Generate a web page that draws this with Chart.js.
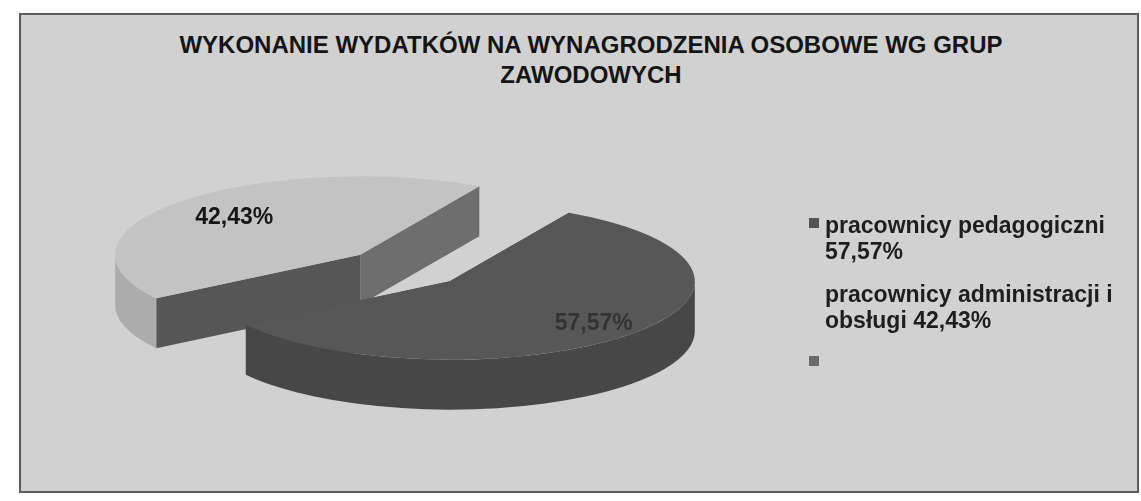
<!DOCTYPE html>
<html>
<head>
<meta charset="utf-8">
<script src="https://cdn.jsdelivr.net/npm/chart.js@4/dist/chart.umd.min.js"></script>
<style>
  body { margin: 0; background: #fff; font-family: "Liberation Sans", Arial, sans-serif; }
  #wrap { position: relative; width: 1141px; height: 501px; overflow: hidden; }
  .frame { position: absolute; left: 19px; top: 13px; width: 1116px; height: 476px; border: 2px solid #5c5c5c; background: #d1d1d1; }
  #title { position: absolute; left: 0; top: 30px; width: 1182px; text-align: center; font-weight: bold; font-size: 24px; line-height: 30px; color: #151515; }
  #chart { position: absolute; left: 0; top: 0; }
  #legend { position: absolute; left: 803px; top: 212px; width: 330px; }
  .item { position: relative; padding-left: 22px; font-weight: bold; font-size: 23px; line-height: 26px; color: #1e1e1e; margin-bottom: 17px; min-height: 20px; }
  .item .box { position: absolute; left: 6px; top: 6px; width: 10px; height: 10px; }
</style>
</head>
<body>
<div id="wrap">
  <div class="frame"></div>
  <div id="title"></div>
  <canvas id="chart" width="1141" height="501"></canvas>
  <div id="legend"></div>
</div>
<script>
// --- data ---
const titleLines = ["WYKONANIE WYDATKÓW NA WYNAGRODZENIA OSOBOWE WG GRUP", "ZAWODOWYCH"];
const categories = ["pracownicy pedagogiczni", "pracownicy administracji i obsługi"];
const values = [57.57, 42.43];
// legend as printed: the 2nd marker is not visible, a 3rd empty entry has one
const legendEntries = [0, 1, null];

const fmt = v => v.toFixed(2).replace(".", ",") + "%";

// --- 3d look ---
const K = 0.32;        // vertical squash of the pie
const DEPTH = 50;      // thickness in px
const EXPLODE = 61;    // distance each slice is pulled out
const sliceStyles = [
  { top: "#575757", side: "#474747", faceStart: "#444444", faceEnd: "#4d4d4d", label: "#343434", labelR: 0.8 },
  { top: "#c3c3c3", side: "#acacac", faceStart: "#565656", faceEnd: "#6e6e6e", label: "#161616", labelR: 0.7 }
];
const legendColors = ["#545454", "rgba(0,0,0,0)", "#6a6a6a"];

document.getElementById("title").innerHTML = titleLines.join("<br>");

const legendEl = document.getElementById("legend");
legendEntries.forEach((idx, i) => {
  const div = document.createElement("div");
  div.className = "item";
  const box = document.createElement("span");
  box.className = "box";
  box.style.background = legendColors[i];
  div.appendChild(box);
  div.appendChild(document.createTextNode(idx === null ? "" : categories[idx] + " " + fmt(values[idx])));
  legendEl.appendChild(div);
});

function drawSlice(ctx, arc, i) {
  const s = sliceStyles[i];
  const mid = (arc.startAngle + arc.endAngle) / 2;
  const cx = arc.x + EXPLODE * Math.cos(mid);
  const cy = arc.y + EXPLODE * K * Math.sin(mid);
  const R = arc.outerRadius, ry = R * K;
  const rim = t => [cx + R * Math.cos(t), cy + ry * Math.sin(t)];

  // cut faces
  [[arc.startAngle, s.faceStart], [arc.endAngle, s.faceEnd]].forEach(([t, c]) => {
    const p = rim(t);
    ctx.beginPath();
    ctx.moveTo(cx, cy);
    ctx.lineTo(p[0], p[1]);
    ctx.lineTo(p[0], p[1] + DEPTH);
    ctx.lineTo(cx, cy + DEPTH);
    ctx.closePath();
    ctx.fillStyle = c;
    ctx.fill();
  });

  // outer wall, front half only
  for (let k = -1; k <= 2; k++) {
    const lo = Math.max(arc.startAngle, 2 * Math.PI * k);
    const hi = Math.min(arc.endAngle, 2 * Math.PI * k + Math.PI);
    if (hi <= lo) continue;
    ctx.beginPath();
    ctx.ellipse(cx, cy, R, ry, 0, lo, hi);
    ctx.ellipse(cx, cy + DEPTH, R, ry, 0, hi, lo, true);
    ctx.closePath();
    ctx.fillStyle = s.side;
    ctx.fill();
  }

  // top
  ctx.beginPath();
  ctx.moveTo(cx, cy);
  ctx.ellipse(cx, cy, R, ry, 0, arc.startAngle, arc.endAngle);
  ctx.closePath();
  ctx.fillStyle = s.top;
  ctx.fill();
}

function drawLabel(ctx, arc, i, v) {
  const s = sliceStyles[i];
  const mid = (arc.startAngle + arc.endAngle) / 2;
  const r = EXPLODE + arc.outerRadius * s.labelR;
  const x = arc.x + r * Math.cos(mid);
  const y = arc.y + r * K * Math.sin(mid);
  ctx.font = "bold 23px 'Liberation Sans', Arial, sans-serif";
  ctx.textAlign = "center";
  ctx.textBaseline = "middle";
  ctx.fillStyle = s.label;
  ctx.fillText(fmt(v), x, y);
}

const pie3d = {
  id: "pie3d",
  beforeDatasetsDraw(chart) {
    const ctx = chart.ctx;
    const arcs = chart.getDatasetMeta(0).data;
    ctx.save();
    // back slice first, front slice on top of it
    drawSlice(ctx, arcs[1], 1);
    drawSlice(ctx, arcs[0], 0);
    drawLabel(ctx, arcs[1], 1, values[1]);
    drawLabel(ctx, arcs[0], 0, values[0]);
    ctx.restore();
    return false;
  }
};

new Chart(document.getElementById("chart").getContext("2d"), {
  type: "pie",
  data: {
    labels: categories,
    datasets: [{ data: values, backgroundColor: legendColors.slice(0, 2), borderWidth: 0, offset: 0, hoverOffset: 0 }]
  },
  options: {
    responsive: false,
    animation: false,
    rotation: 29.1,
    radius: 245,
    layout: { padding: { left: 0, right: 331, top: 35, bottom: 0 } },
    plugins: { legend: { display: false }, tooltip: { enabled: false }, title: { display: false } }
  },
  plugins: [pie3d]
});
</script>
</body>
</html>
